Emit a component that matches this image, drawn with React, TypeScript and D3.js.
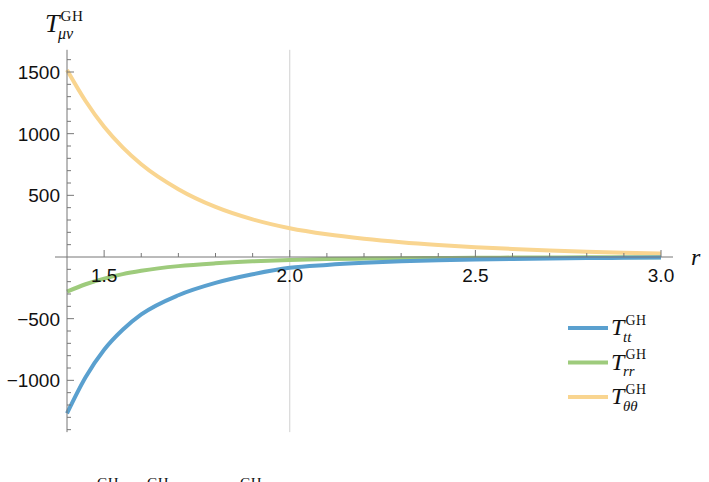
import { useRef, useEffect } from 'react';
import * as d3 from 'd3';

// values
const rValues = [1.4, 1.45, 1.5, 1.55, 1.6, 1.7, 1.8, 1.9, 2.0, 2.1, 2.2, 2.3, 2.4, 2.5, 2.6, 2.7, 2.8, 2.9, 3.0];
const tttValues = [-1268, -975, -752, -590, -466, -310, -210, -140, -88, -64, -47, -35, -27, -21, -16, -12, -9, -7, -5];
const trrValues = [-281, -221, -175, -139, -112, -74, -51, -35, -24, -17, -13, -10, -8, -6, -5, -4, -3, -3, -2];
const tththValues = [1517, 1265, 1056, 889, 752, 550, 406, 305, 233, 184, 148, 120, 98, 80, 65, 53, 43, 35, 28];

const xMajorTicks = [1.5, 2.0, 2.5, 3.0];
const yMajorTicks = [-1000, -500, 500, 1000, 1500];

const series = [
    { key: 'tt', sub: 'tt', values: tttValues, color: '#5aa0cf' },
    { key: 'rr', sub: 'rr', values: trrValues, color: '#9ecb7c' },
    { key: 'thth', sub: 'θθ', values: tththValues, color: '#f9d590' },
];

const App = () => {
    const svgRef = useRef<SVGSVGElement>(null);

    useEffect(() => {
        document.body.style.margin = '0';
        const width = 709;
        const height = 482;
        const svg = d3.select(svgRef.current)
            .attr('width', width)
            .attr('height', height)
            .html('');

        const x = d3.scaleLinear().domain([1.4, 3.0]).range([67, 661]);
        const y = d3.scaleLinear().domain([0, 1500]).range([257, 72]);
        const axisColor = '#777';
        const yTop = y(1680);
        const yBottom = y(-1420);

        // vertical grid line at r = 2
        svg.append('line')
            .attr('x1', x(2)).attr('x2', x(2))
            .attr('y1', yTop).attr('y2', yBottom)
            .attr('stroke', '#d0d0d0').attr('stroke-width', 1);

        // curves
        const line = d3.line<number>()
            .x((d, i) => x(rValues[i]))
            .y(d => y(d))
            .curve(d3.curveMonotoneX);

        series.slice().reverse().forEach(s => {
            svg.append('path')
                .attr('d', line(s.values))
                .attr('fill', 'none')
                .attr('stroke', s.color)
                .attr('stroke-width', 4)
                .attr('stroke-linecap', 'butt');
        });

        // x axis
        svg.append('line')
            .attr('x1', 55).attr('x2', 673)
            .attr('y1', y(0)).attr('y2', y(0))
            .attr('stroke', axisColor).attr('stroke-width', 1);
        d3.range(15, 31).forEach(k => {
            const v = k / 10;
            const major = k % 5 === 0;
            svg.append('line')
                .attr('x1', x(v)).attr('x2', x(v))
                .attr('y1', y(0)).attr('y2', y(0) - (major ? 7 : 4))
                .attr('stroke', axisColor).attr('stroke-width', 1);
        });
        svg.selectAll('.xlabel')
            .data(xMajorTicks)
            .enter()
            .append('text')
            .attr('x', d => x(d))
            .attr('y', 282)
            .attr('text-anchor', 'middle')
            .attr('font-family', 'Liberation Sans, Arial, sans-serif')
            .attr('font-size', '19px')
            .attr('fill', '#111')
            .text(d => d.toFixed(1));

        // y axis
        svg.append('line')
            .attr('x1', x(1.4)).attr('x2', x(1.4))
            .attr('y1', yTop).attr('y2', yBottom)
            .attr('stroke', axisColor).attr('stroke-width', 1);
        d3.range(-14, 17).forEach(k => {
            const v = k * 100;
            if (v === 0) return;
            const major = k % 5 === 0;
            svg.append('line')
                .attr('x1', x(1.4)).attr('x2', x(1.4) + (major ? 7 : 4))
                .attr('y1', y(v)).attr('y2', y(v))
                .attr('stroke', axisColor).attr('stroke-width', 1);
        });
        svg.selectAll('.ylabel')
            .data(yMajorTicks)
            .enter()
            .append('text')
            .attr('x', 60)
            .attr('y', d => y(d) + 7)
            .attr('text-anchor', 'end')
            .attr('font-family', 'Liberation Sans, Arial, sans-serif')
            .attr('font-size', '19px')
            .attr('fill', '#111')
            .text(d => (d < 0 ? '\u2212' + Math.abs(d) : String(d)));

        const serif = 'Liberation Serif, Times New Roman, serif';

        // T^GH with subscript
        const texLabel = (g: any, px: number, py: number, sub: string, size: number) => {
            g.append('text')
                .attr('x', px).attr('y', py)
                .attr('font-family', serif).attr('font-style', 'italic')
                .attr('font-size', size + 'px').attr('fill', '#111')
                .text('T');
            g.append('text')
                .attr('x', px + size * 0.6).attr('y', py - size * 0.42)
                .attr('font-family', serif)
                .attr('font-size', (size * 0.58) + 'px').attr('fill', '#111')
                .attr('letter-spacing', '0.5px')
                .text('GH');
            g.append('text')
                .attr('x', px + size * 0.5).attr('y', py + size * 0.28)
                .attr('font-family', serif).attr('font-style', 'italic')
                .attr('font-size', (size * 0.62) + 'px').attr('fill', '#111')
                .text(sub);
        };

        // axis labels
        texLabel(svg, 45, 32, 'μν', 26);
        svg.append('text')
            .attr('x', 691).attr('y', 265)
            .attr('font-family', serif).attr('font-style', 'italic')
            .attr('font-size', '24px').attr('fill', '#111')
            .text('r');

        // legend
        const legend = svg.append('g');
        series.forEach((s, i) => {
            const ly = 328 + i * 34.5;
            legend.append('line')
                .attr('x1', 568).attr('x2', 608)
                .attr('y1', ly).attr('y2', ly)
                .attr('stroke', s.color).attr('stroke-width', 4);
            texLabel(legend, 611, ly + 7, s.sub, 24);
        });

        // caption below the plot, cut off by the picture's edge as in the original
        [97, 147, 240].forEach(px => {
            svg.append('text')
                .attr('x', px).attr('y', 488)
                .attr('font-family', serif)
                .attr('font-size', '15px').attr('fill', '#111')
                .text('GH');
        });
    }, []);

    return (
        <div>
            <svg ref={svgRef} style={{ display: 'block' }}></svg>
        </div>
    );
};

export default App;
